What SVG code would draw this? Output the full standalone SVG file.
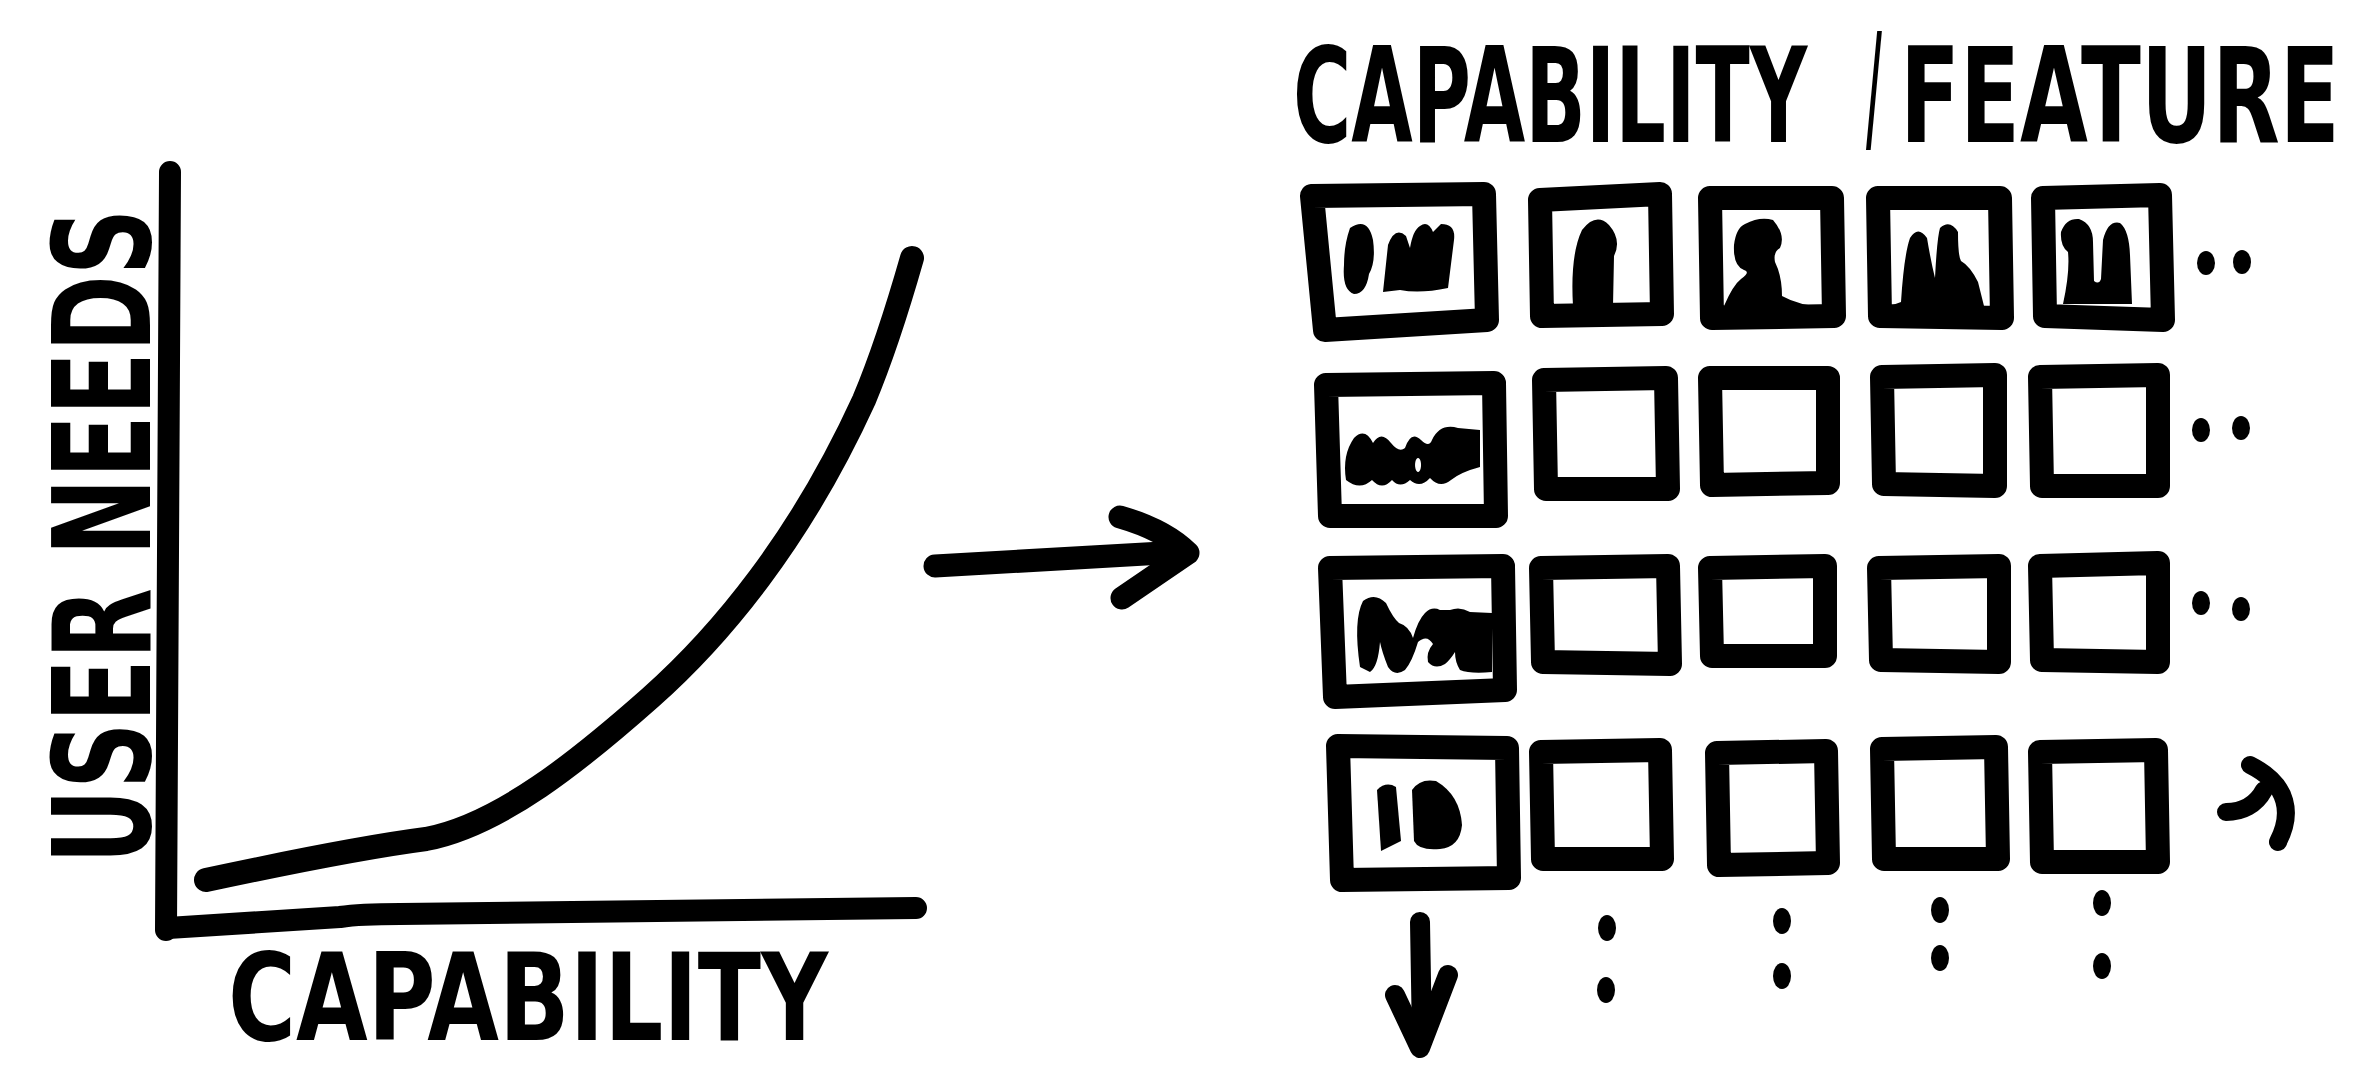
<svg xmlns="http://www.w3.org/2000/svg" width="2358" height="1069" viewBox="0 0 2358 1069">
<style>
.hand{font-family:"DejaVu Sans","Liberation Sans",sans-serif;font-weight:bold;fill:#000}
.ln{fill:none;stroke:#000;stroke-linecap:round;stroke-linejoin:round}
.box{fill:none;stroke:#000;stroke-width:24;stroke-linejoin:round}
.ink{fill:#000}
</style>
<rect width="2358" height="1069" fill="#fff"/>

<g id="chart">
  <g id="axes">
    <path class="ln" stroke-width="22" d="M170,172 L166,930"/>
    <path class="ln" stroke-width="22" d="M168,928 L340,917 Q360,914 400,914 L916,908"/>
  </g>
  <path id="curve" class="ln" stroke-width="24" d="M206,880 C290,862 380,845 426,839 C500,825 580,760 650,698 C720,636 800,540 864,400 C885,350 900,300 912,258"/>
  <text id="label-y" class="hand" font-size="136" transform="translate(150,864) rotate(-90) scale(0.68,1)">USER NEEDS</text>
  <text id="label-x" class="hand" font-size="122" transform="translate(228,1040) scale(0.76,1)">CAPABILITY</text>
</g>

<g id="connectors">
  <g id="arrow-right">
    <path class="ln" stroke-width="23" d="M935,566 L1180,552"/>
    <path class="ln" stroke-width="23" d="M1120,517 Q1165,530 1188,553 L1122,598"/>
  </g>
  <g id="arrow-down">
    <path class="ln" stroke-width="20" d="M1420,922 L1422,1040"/>
    <path class="ln" stroke-width="20" d="M1395,995 L1420,1048 L1448,975"/>
  </g>
  <g id="arrow-curl">
    <path class="ln" stroke-width="18" d="M2250,765 C2290,785 2292,815 2278,842"/>
    <path class="ln" stroke-width="18" d="M2226,812 C2242,812 2256,805 2264,790"/>
  </g>
</g>

<g id="title">
  <text class="hand" font-size="132" transform="translate(1293,142) scale(0.602,1)">CAPABILITY</text>
  <text class="hand" font-size="145" transform="translate(1866,137) scale(0.3,1)">/</text>
  <text class="hand" font-size="132" transform="translate(1900,142) scale(0.665,1)">FEATURE</text>
</g>

<g id="grid">
  <g id="r1c1"><path class="box" d="M1312,196 L1484,194 L1487,320 L1325,330 Z"/>
    <path class="ink" d="M1350,228 Q1368,216 1373,240 Q1376,262 1369,274 Q1366,294 1354,294 Q1342,290 1344,265 Q1344,245 1350,228 Z"/>
    <path class="ink" d="M1383,292 L1388,245 Q1395,226 1406,236 L1410,248 Q1413,230 1420,226 Q1428,220 1433,232 L1441,224 Q1456,224 1454,240 L1448,288 Q1420,294 1400,290 Z"/>
  </g>
  <g id="r1c2"><path class="box" d="M1540,200 L1660,194 L1662,314 L1542,316 Z"/>
    <path class="ink" d="M1573,306 Q1570,255 1582,230 Q1596,212 1609,225 Q1622,240 1614,256 L1613,306 Z"/>
  </g>
  <g id="r1c3"><path class="box" d="M1710,198 L1832,198 L1834,316 L1712,318 Z"/>
    <path class="ink" d="M1724,306 Q1733,285 1741,279 Q1751,272 1744,270 Q1733,266 1734,245 Q1736,228 1745,224 Q1760,216 1773,220 Q1786,235 1780,248 Q1773,252 1775,262 Q1782,276 1782,296 Q1800,306 1822,306 Z"/>
  </g>
  <g id="r1c4"><path class="box" d="M1878,198 L2000,198 L2002,318 L1880,316 Z"/>
    <path class="ink" d="M1890,306 L1901,302 Q1904,255 1910,238 Q1918,225 1927,238 Q1931,262 1935,278 Q1937,238 1940,228 Q1950,219 1958,232 Q1958,256 1961,261 Q1970,266 1978,282 L1984,306 Z"/>
  </g>
  <g id="r1c5"><path class="box" d="M2043,198 L2160,195 L2163,320 L2045,316 Z"/>
    <path class="ink" d="M2063,304 Q2070,272 2068,252 Q2060,246 2061,232 Q2066,218 2079,219 Q2093,224 2093,242 L2094,281 Q2099,285 2101,279 L2103,240 Q2108,220 2120,223 Q2129,230 2130,255 L2132,304 Z"/>
  </g>
  <ellipse class="ink" cx="2206" cy="263" rx="9" ry="12"/>
  <ellipse class="ink" cx="2242" cy="262" rx="9" ry="12"/>

  <g id="r2c1"><path class="box" d="M1326,385 L1494,383 L1496,516 L1330,516 Z"/>
    <path class="ink" fill-rule="evenodd" d="M1346,480 Q1342,455 1354,438 Q1365,427 1373,443 Q1381,430 1391,443 Q1399,453 1405,448 Q1411,430 1421,440 Q1429,448 1432,440 Q1440,423 1458,428 L1480,430 L1480,467 Q1461,472 1451,480 Q1440,489 1430,478 Q1420,489 1410,480 Q1400,489 1392,480 Q1382,491 1372,480 Q1360,491 1346,480 Z M1418,458 a3,7 0 1,0 0.1,0 Z"/>
  </g>
  <g id="r2c2"><path class="box" d="M1544,380 L1666,378 L1668,489 L1546,489 Z"/></g>
  <g id="r2c3"><path class="box" d="M1710,378 L1828,378 L1828,483 L1712,485 Z"/></g>
  <g id="r2c4"><path class="box" d="M1882,377 L1995,375 L1995,486 L1884,484 Z"/></g>
  <g id="r2c5"><path class="box" d="M2040,377 L2158,375 L2158,486 L2042,486 Z"/></g>
  <ellipse class="ink" cx="2201" cy="430" rx="9" ry="12"/>
  <ellipse class="ink" cx="2241" cy="428" rx="9" ry="12"/>

  <g id="r3c1"><path class="box" d="M1330,568 L1503,566 L1505,690 L1335,697 Z"/>
    <path class="ink" d="M1360,667 Q1353,620 1363,601 Q1375,592 1386,603 Q1393,618 1399,623 Q1409,626 1413,638 Q1418,620 1425,613 Q1432,606 1440,610 L1450,610 Q1460,606 1470,612 L1492,613 L1492,672 Q1470,674 1460,670 Q1455,662 1455,652 Q1450,660 1445,664 Q1435,670 1428,662 Q1426,652 1433,644 Q1427,634 1418,642 Q1412,662 1405,670 Q1395,677 1388,667 Q1382,652 1380,642 Q1378,667 1370,672 Z"/>
  </g>
  <g id="r3c2"><path class="box" d="M1541,568 L1668,566 L1670,664 L1543,662 Z"/></g>
  <g id="r3c3"><path class="box" d="M1710,568 L1825,566 L1825,656 L1712,656 Z"/></g>
  <g id="r3c4"><path class="box" d="M1879,568 L1999,566 L1999,662 L1881,660 Z"/></g>
  <g id="r3c5"><path class="box" d="M2040,566 L2158,563 L2158,662 L2042,660 Z"/></g>
  <ellipse class="ink" cx="2201" cy="603" rx="9" ry="12"/>
  <ellipse class="ink" cx="2241" cy="609" rx="9" ry="12"/>

  <g id="r4c1"><path class="box" d="M1338,746 L1507,748 L1509,878 L1342,880 Z"/>
    <path class="ink" d="M1377,790 Q1386,781 1396,787 L1401,841 L1381,851 Z"/>
    <path class="ink" d="M1412,790 Q1420,778 1436,781 Q1460,795 1462,825 Q1460,847 1440,849 Q1419,851 1414,841 Z"/>
  </g>
  <g id="r4c2"><path class="box" d="M1541,752 L1660,750 L1662,859 L1543,859 Z"/></g>
  <g id="r4c3"><path class="box" d="M1717,753 L1826,751 L1828,863 L1719,865 Z"/></g>
  <g id="r4c4"><path class="box" d="M1882,749 L1996,747 L1998,859 L1884,859 Z"/></g>
  <g id="r4c5"><path class="box" d="M2040,752 L2156,750 L2158,862 L2042,862 Z"/></g>

  <g id="more">
    <ellipse class="ink" cx="1607" cy="928" rx="9" ry="13"/>
    <ellipse class="ink" cx="1606" cy="990" rx="9" ry="13"/>
    <ellipse class="ink" cx="1782" cy="921" rx="9" ry="13"/>
    <ellipse class="ink" cx="1782" cy="976" rx="9" ry="13"/>
    <ellipse class="ink" cx="1940" cy="910" rx="9" ry="13"/>
    <ellipse class="ink" cx="1940" cy="958" rx="9" ry="13"/>
    <ellipse class="ink" cx="2102" cy="903" rx="9" ry="13"/>
    <ellipse class="ink" cx="2102" cy="966" rx="9" ry="13"/>
  </g>
</g>
</svg>
